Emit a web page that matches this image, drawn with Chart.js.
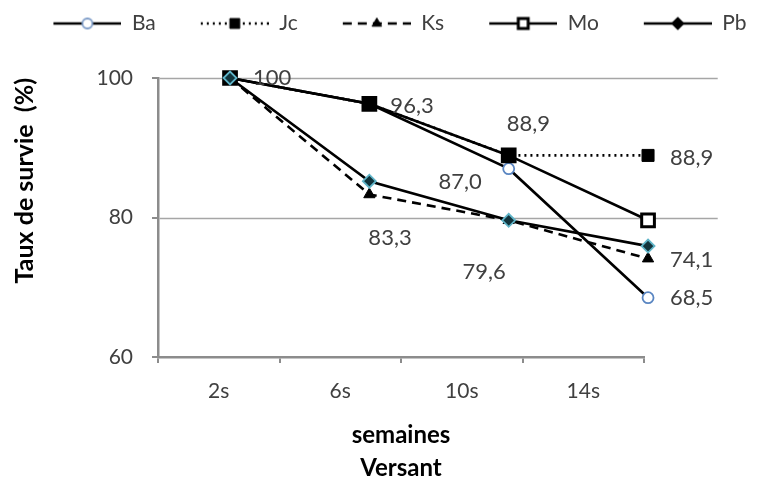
<!DOCTYPE html>
<html>
<head>
<meta charset="utf-8">
<script src="https://cdn.jsdelivr.net/npm/chart.js@4.4.1/dist/chart.umd.min.js"></script>
<style>
  html, body { margin: 0; padding: 0; background: #ffffff; }
  canvas { display: block; }
</style>
</head>
<body>
<canvas id="chart" width="760" height="482" style="width:760px;height:482px"></canvas>
<script>
// ---------- data ----------
const categories = ['2s', '6s', '10s', '14s'];
const seriesNames = ['Ba', 'Jc', 'Ks', 'Mo', 'Pb'];
const baValues = [100, 96.3, 87.0, 68.5];
const jcValues = [100, 96.3, 88.9, 88.9];
const ksValues = [100, 83.3, 79.6, 74.1];
const moValues = [100, 96.3, 88.9, 79.6];
const pbValues = [100, 85.2, 79.6, 75.9];
const yTicks = [60, 80, 100];
const yTitle = 'Taux de survie  (%)';
const xTitle = ['semaines', 'Versant'];

// which values carry a data label (series, category index)
const labelled = [
  ['Pb', 0], ['Mo', 1], ['Ks', 1], ['Jc', 2], ['Ba', 2],
  ['Pb', 2], ['Jc', 3], ['Ks', 3], ['Ba', 3]
];

// ---------- styles ----------
const FONT = 'Lato, "Open Sans", sans-serif';
const TEXT = '#404040';
const GRID = '#a6a6a6';
const AXIS = '#8c8c8c';
const TOP_PAD = 8;

const seriesValues = { Ba: baValues, Jc: jcValues, Ks: ksValues, Mo: moValues, Pb: pbValues };
const styles = {
  Ba: { dash: [], pointStyle: 'circle', radius: 5.5, bg: '#ffffff', border: '#5a86c2', bw: 1.8, order: 4, lRadius: 5, lBg: '#ffffff', lBorder: '#7d9cc8' },
  Jc: { dash: [2, 4], pointStyle: 'rect', radius: 8.5, bg: '#000000', border: '#000000', bw: 1, order: 1, lRadius: 7, lBg: '#000000', lBorder: '#000000' },
  Ks: { dash: [9, 6], pointStyle: 'triangle', radius: 6.5, bg: '#000000', border: '#000000', bw: 1, order: 3, lRadius: 5.5, lBg: '#000000', lBorder: '#000000' },
  Mo: { dash: [], pointStyle: 'rect', radius: 9, bg: '#ffffff', border: '#000000', bw: 3, order: 2, lRadius: 7, lBg: '#ffffff', lBorder: '#000000' },
  Pb: { dash: [], pointStyle: 'rectRot', radius: 6.5, bg: '#12343c', border: '#5fb4c8', bw: 1.8, order: 0, lRadius: 5.5, lBg: '#000000', lBorder: '#000000' }
};
// label offsets relative to the point (pixels) and text alignment
const labelPlacement = {
  'Pb-0': { dx: 23, dy: 0, align: 'left' },
  'Mo-1': { dx: 21, dy: 2, align: 'left' },
  'Ks-1': { dx: -1, dy: 43, align: 'left' },
  'Jc-2': { dx: -2, dy: -32, align: 'left' },
  'Ba-2': { dx: -27, dy: 13, align: 'right' },
  'Pb-2': { dx: -3, dy: 52, align: 'right' },
  'Jc-3': { dx: 22, dy: 2, align: 'left' },
  'Ks-3': { dx: 22, dy: 1, align: 'left' },
  'Ba-3': { dx: 22, dy: 0, align: 'left' }
};

const LEG_MARGIN = 40, LEG_LINE = 68, LEG_H = 22;
function makeLegendImage(st) {
  const c = document.createElement('canvas');
  c.width = LEG_MARGIN + LEG_LINE; c.height = LEG_H;
  const g = c.getContext('2d');
  g.strokeStyle = '#000'; g.lineWidth = 2.5; g.setLineDash(st.dash);
  g.beginPath(); g.moveTo(LEG_MARGIN, LEG_H / 2); g.lineTo(LEG_MARGIN + LEG_LINE, LEG_H / 2); g.stroke();
  g.setLineDash([]);
  g.fillStyle = st.lBg; g.strokeStyle = st.lBorder; g.lineWidth = st.bw;
  Chart.helpers.drawPoint(g, { pointStyle: st.pointStyle, radius: st.lRadius, rotation: 0, borderWidth: st.bw },
    LEG_MARGIN + LEG_LINE / 2, LEG_H / 2);
  return c;
}

function fmt(v) { return v === 100 ? '100' : v.toFixed(1).replace('.', ','); }

const extGrid = {
  id: 'extGrid',
  beforeDatasetsDraw(chart) {
    const y = chart.scales.y, xd = chart.scales.xd, ctx = chart.ctx;
    const right = xd.getPixelForValue(categories.length - 0.5);
    ctx.save();
    ctx.strokeStyle = GRID; ctx.lineWidth = 1.3;
    yTicks.filter(v => v > y.min).forEach(v => {
      const py = Math.round(y.getPixelForValue(v)) + 0.5;
      ctx.beginPath(); ctx.moveTo(chart.chartArea.left + 1.5, py); ctx.lineTo(right, py); ctx.stroke();
    });
    ctx.restore();
  }
};

const dataLabels = {
  id: 'dataLabels',
  afterDatasetsDraw(chart) {
    const ctx = chart.ctx;
    ctx.save();
    ctx.font = '22px ' + FONT; ctx.fillStyle = TEXT; ctx.textBaseline = 'middle';
    labelled.forEach(([name, idx]) => {
      const di = seriesNames.indexOf(name);
      const pt = chart.getDatasetMeta(di).data[idx];
      const p = labelPlacement[name + '-' + idx];
      ctx.textAlign = p.align;
      ctx.fillText(fmt(seriesValues[name][idx]), pt.x + p.dx, pt.y + p.dy);
    });
    ctx.restore();
  }
};

function build() {
  const legendImages = seriesNames.map(n => makeLegendImage(styles[n]));
  const datasets = seriesNames.map(n => {
    const st = styles[n];
    return {
      label: n,
      data: seriesValues[n].map((v, i) => ({ x: i, y: v })),
      xAxisID: 'xd', yAxisID: 'y',
      borderColor: '#000000', borderWidth: 2.6, borderDash: st.dash,
      pointStyle: st.pointStyle, pointRadius: st.radius, pointBackgroundColor: st.bg,
      pointBorderColor: st.border, pointBorderWidth: st.bw, pointHoverRadius: st.radius,
      tension: 0, fill: false, clip: false, order: st.order
    };
  });

  new Chart(document.getElementById('chart'), {
    type: 'line',
    data: { labels: categories, datasets },
    options: {
      responsive: false, animation: false,
      layout: { padding: { top: TOP_PAD, left: 0, right: 0, bottom: 0 } },
      plugins: {
        tooltip: { enabled: false },
        legend: {
          position: 'top',
          labels: {
            usePointStyle: true, pointStyleWidth: LEG_MARGIN + LEG_LINE, padding: 5,
            font: { family: FONT, size: 21 }, color: TEXT,
            generateLabels: (chart) => chart.data.datasets.map((ds, i) => ({
              text: ds.label, pointStyle: legendImages[i], datasetIndex: i,
              fillStyle: 'rgba(0,0,0,0)', strokeStyle: 'rgba(0,0,0,0)', lineWidth: 0,
              fontColor: TEXT, hidden: false
            }))
          }
        }
      },
      scales: {
        xd: {
          type: 'linear', position: 'top', min: -0.517, max: 2.971,
          ticks: { display: false }, grid: { display: false }, border: { display: false },
          afterFit(s) { s.height = 78 - TOP_PAD - s.chart.legend.height; }
        },
        x: {
          type: 'category', position: 'bottom', offset: true,
          grid: { offset: true, drawOnChartArea: false, tickLength: 6, color: AXIS, lineWidth: 2 },
          border: { color: AXIS, width: 2.5 },
          ticks: { font: { family: FONT, size: 21 }, color: TEXT, padding: 16, maxRotation: 0, autoSkip: false },
          title: { display: true, text: xTitle, color: '#000000',
                   font: { family: FONT, size: 24, weight: 'bold', lineHeight: 1.35 }, padding: { top: 4, bottom: -2 } },
          afterFit(s) { s.height = 125; }
        },
        y: {
          type: 'linear', position: 'left', min: 60, max: 100,
          afterBuildTicks(s) { s.ticks = yTicks.map(v => ({ value: v })); },
          grid: { drawOnChartArea: false, tickLength: 6, color: AXIS, lineWidth: 2 },
          border: { color: AXIS, width: 2.5 },
          ticks: { font: { family: FONT, size: 21 }, color: TEXT, padding: 19 },
          title: { display: true, text: yTitle, align: 'end', color: '#000000',
                   font: { family: FONT, size: 25, weight: 'bold' }, padding: { top: 10 } },
          afterFit(s) { s.width = 158; }
        },
        yr: {
          type: 'linear', position: 'right',
          ticks: { display: false }, grid: { display: false }, border: { display: false },
          afterFit(s) { s.width = 116; }
        }
      }
    },
    plugins: [extGrid, dataLabels]
  });
}

const loads = ['21px Lato', 'bold 24px Lato'].map(f => document.fonts.load(f).catch(() => null));
Promise.race([Promise.all(loads), new Promise(r => setTimeout(r, 800))]).then(build);
</script>
</body>
</html>
